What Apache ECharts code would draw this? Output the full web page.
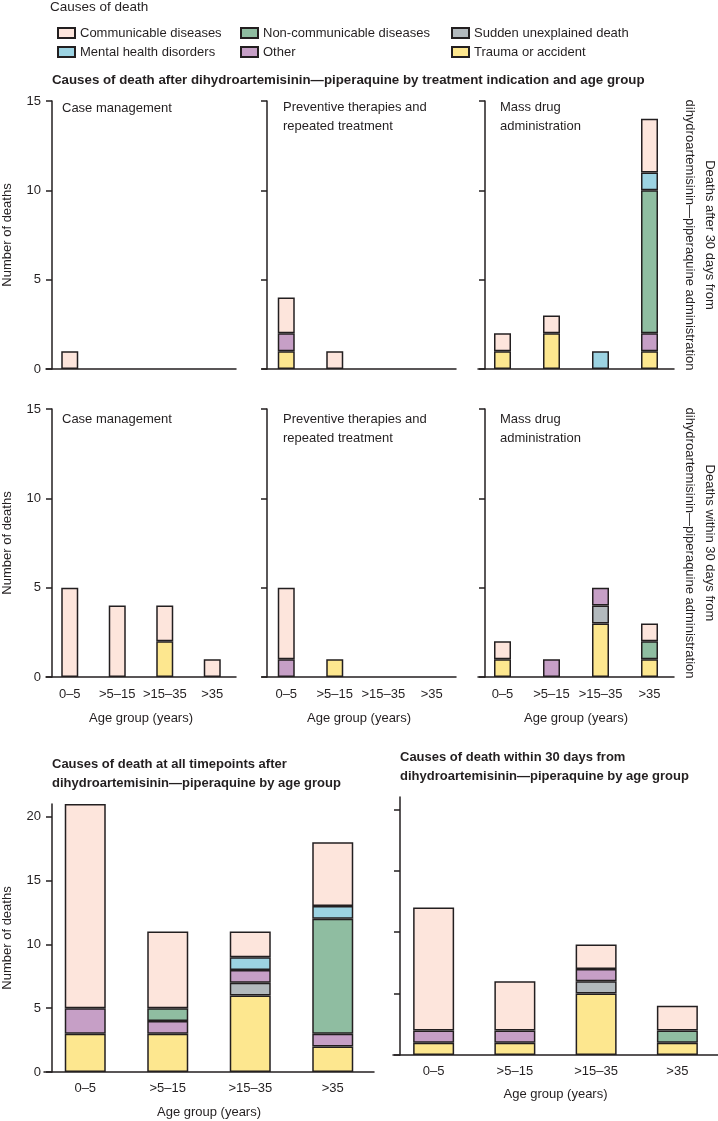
<!DOCTYPE html>
<html><head><meta charset="utf-8">
<script src="https://cdn.jsdelivr.net/npm/echarts@6/dist/echarts.min.js"></script>
<style>html,body{margin:0;padding:0;background:#fff}#c{width:718px;height:1121px}</style>
</head><body><div id="c"></div><script>
// ---------------- DATA ----------------
const ageGroups = ['0–5', '>5–15', '>15–35', '>35'];
// stacking order, bottom to top
const causeNames = ['Trauma or accident', 'Sudden unexplained death', 'Other',
  'Non-communicable diseases', 'Mental health disorders', 'Communicable diseases'];
const causeColors = ['#fde78f', '#b2b9bd', '#c69fc6', '#8fbda1', '#9cd3e2', '#fde5dc'];
const panelTickValues = [0, 5, 10, 15];
const summaryTickValues = [0, 5, 10, 15, 20];

// each array: rows follow causeNames order, columns follow ageGroups
// Deaths after 30 days
const afterCaseManagement = [
  [0, 0, 0, 0], [0, 0, 0, 0], [0, 0, 0, 0], [0, 0, 0, 0], [0, 0, 0, 0], [1, 0, 0, 0]];
const afterPreventive = [
  [1, 0, 0, 0], [0, 0, 0, 0], [1, 0, 0, 0], [0, 0, 0, 0], [0, 0, 0, 0], [2, 1, 0, 0]];
const afterMassDrug = [
  [1, 2, 0, 1], [0, 0, 0, 0], [0, 0, 0, 1], [0, 0, 0, 8], [0, 0, 1, 1], [1, 1, 0, 3]];
// Deaths within 30 days
const withinCaseManagement = [
  [0, 0, 2, 0], [0, 0, 0, 0], [0, 0, 0, 0], [0, 0, 0, 0], [0, 0, 0, 0], [5, 4, 2, 1]];
const withinPreventive = [
  [0, 1, 0, 0], [0, 0, 0, 0], [1, 0, 0, 0], [0, 0, 0, 0], [0, 0, 0, 0], [4, 0, 0, 0]];
const withinMassDrug = [
  [1, 0, 3, 1], [0, 0, 1, 0], [0, 1, 1, 0], [0, 0, 0, 1], [0, 0, 0, 0], [1, 0, 0, 1]];
// Summaries by age group
const allTimepoints = [
  [3, 3, 6, 2], [0, 0, 1, 0], [2, 1, 1, 1], [0, 1, 0, 9], [0, 0, 1, 1], [16, 6, 2, 5]];
const within30Days = [
  [1, 1, 5, 1], [0, 0, 1, 0], [1, 1, 1, 0], [0, 0, 0, 1], [0, 0, 0, 0], [10, 4, 2, 2]];

// ---------------- LAYOUT ----------------
const FONT = "'Liberation Sans', Arial, sans-serif";
const INK = '#231f20';
const ROW1 = 101, ROW2 = 409, PH = 268;
const panels = [
  {vals: afterCaseManagement, left: 46, top: ROW1, width: 190, height: PH, off: -6, bw: 17, yMax: 15, ticks: panelTickValues, yLab: true, xLab: false, yName: 'Number of deaths'},
  {vals: afterPreventive, left: 262, top: ROW1, width: 194, height: PH, off: -5, bw: 17, yMax: 15, ticks: panelTickValues, yLab: false, xLab: false},
  {vals: afterMassDrug, left: 478, top: ROW1, width: 196, height: PH, off: -7, bw: 17, yMax: 15, ticks: panelTickValues, yLab: false, xLab: false},
  {vals: withinCaseManagement, left: 46, top: ROW2, width: 190, height: PH, off: -6, bw: 17, yMax: 15, ticks: panelTickValues, yLab: true, xLab: true, yName: 'Number of deaths', xGap: 35, xMargin: 11},
  {vals: withinPreventive, left: 262, top: ROW2, width: 194, height: PH, off: -5, bw: 17, yMax: 15, ticks: panelTickValues, yLab: false, xLab: true, xGap: 35, xMargin: 11},
  {vals: withinMassDrug, left: 478, top: ROW2, width: 196, height: PH, off: -7, bw: 17, yMax: 15, ticks: panelTickValues, yLab: false, xLab: true, xGap: 35, xMargin: 11},
  {vals: allTimepoints, left: 44, top: 804, width: 330, height: 268, off: -8, bw: 41, yMax: 21, ticks: summaryTickValues, yLab: true, xLab: true, yName: 'Number of deaths', xGap: 34, xMargin: 10},
  {vals: within30Days, left: 393, top: 797, width: 325, height: 258, off: -7, bw: 41, yMax: 21, ticks: summaryTickValues, yLab: false, xLab: true, xGap: 33, xMargin: 10}
];

const lineStyle = {color: INK, width: 1.5};
const textBase = {fontFamily: FONT, fontSize: 13, color: INK};
const grid = [], xAxis = [], yAxis = [], series = [];
panels.forEach((p, i) => {
  grid.push({left: p.left, top: p.top, width: p.width, height: p.height});
  xAxis.push({
    type: 'category', gridIndex: i, data: ageGroups,
    axisLine: {lineStyle}, axisTick: {alignWithLabel: true, length: 6, lineStyle, interval: 0},
    axisLabel: Object.assign({show: p.xLab, margin: p.xMargin || 10, interval: 0, hideOverlap: false}, textBase),
    name: p.xLab ? 'Age group (years)' : '', nameLocation: 'middle', nameGap: p.xGap || 30,
    nameTextStyle: textBase
  });
  yAxis.push({
    type: 'value', gridIndex: i, min: 0, max: p.yMax, interval: 5, offset: p.off,
    axisLine: {show: true, lineStyle},
    axisTick: {show: true, length: 6, lineStyle, customValues: p.ticks},
    axisLabel: Object.assign({show: p.yLab, margin: 11, customValues: p.ticks}, textBase),
    splitLine: {show: false},
    name: p.yName || '', nameLocation: 'middle', nameGap: 38, nameRotate: 90,
    nameTextStyle: textBase
  });
  causeNames.forEach((c, k) => {
    series.push({
      type: 'bar', name: c, xAxisIndex: i, yAxisIndex: i, stack: 'p' + i,
      barWidth: p.bw,
      itemStyle: {color: causeColors[k], borderColor: INK, borderWidth: 1.5},
      data: p.vals[k].map(v => (v === 0 ? '-' : v)),
      emphasis: {disabled: true}
    });
  });
});

const legendBase = {
  orient: 'vertical', itemWidth: 17, itemHeight: 10, itemGap: 5, icon: 'rect',
  textStyle: {fontFamily: FONT, fontSize: 13, color: INK, lineHeight: 14},
  selectedMode: false
};
const legend = [
  Object.assign({left: 52, top: 21, data: ['Communicable diseases', 'Mental health disorders']}, legendBase),
  Object.assign({left: 235, top: 21, data: ['Non-communicable diseases', 'Other']}, legendBase),
  Object.assign({left: 446, top: 21, data: ['Sudden unexplained death', 'Trauma or accident']}, legendBase)
];

function txt(x, y, text, extra) {
  return {type: 'text', x, y, silent: true,
    style: Object.assign({text, fill: INK, fontFamily: FONT, fontSize: 13, verticalAlign: 'middle', lineHeight: 19}, extra || {})};
}
const graphic = [
  txt(50, 7, 'Causes of death', {fontSize: 13.5}),
  txt(52, 80, 'Causes of death after dihydroartemisinin—piperaquine by treatment indication and age group', {fontWeight: 'bold', fontSize: 13.3}),
  txt(62, 108, 'Case management'),
  txt(283, 116.5, 'Preventive therapies and\nrepeated treatment'),
  txt(500, 116.5, 'Mass drug\nadministration'),
  txt(62, 419, 'Case management'),
  txt(283, 428.5, 'Preventive therapies and\nrepeated treatment'),
  txt(500, 428.5, 'Mass drug\nadministration'),
  Object.assign(txt(700, 235, 'Deaths after 30 days from\ndihydroartemisinin—piperaquine administration', {align: 'center', lineHeight: 20}), {rotation: -Math.PI / 2}),
  Object.assign(txt(700, 543, 'Deaths within 30 days from\ndihydroartemisinin—piperaquine administration', {align: 'center', lineHeight: 20}), {rotation: -Math.PI / 2}),
  txt(52, 773.5, 'Causes of death at all timepoints after\ndihydroartemisinin—piperaquine by age group', {fontWeight: 'bold'}),
  txt(400, 766.5, 'Causes of death within 30 days from\ndihydroartemisinin—piperaquine by age group', {fontWeight: 'bold'})
];

const chart = echarts.init(document.getElementById('c'), null, {renderer: 'canvas'});
chart.setOption({
  animation: false, backgroundColor: '#fff',
  legend, grid, xAxis, yAxis, series, graphic, tooltip: {show: false}
});
</script></body></html>
